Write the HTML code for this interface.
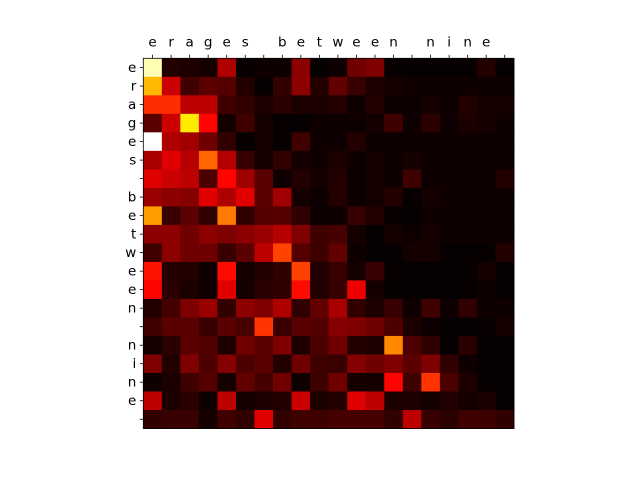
<!DOCTYPE html>
<html><head><meta charset="utf-8"><style>
body{margin:0;background:#fff;}
svg text{font-family:"DejaVu Sans","Liberation Sans",sans-serif;font-size:13.5px;fill:#000;}
</style></head><body>
<svg id="chart" width="640" height="480" viewBox="0 0 640 480" xmlns="http://www.w3.org/2000/svg">
<rect width="640" height="480" fill="#fff"/>
<g id="cells"></g><g id="axes"></g>
</svg>
<script>
const xLabels = ["e","r","a","g","e","s"," ","b","e","t","w","e","e","n"," ","n","i","n","e"," "];
const yLabels = ["e","r","a","g","e","s"," ","b","e","t","w","e","e","n"," ","n","i","n","e"," "];
const weights = [
[0.92,0.05,0.04,0.03,0.25,0.01,0.02,0.02,0.2,0.01,0.02,0.16,0.18,0.01,0.01,0.01,0.01,0.01,0.05,0.01],
[0.63,0.29,0.09,0.13,0.12,0.05,0.01,0.07,0.2,0.05,0.14,0.08,0.04,0.03,0.02,0.02,0.02,0.02,0.02,0.02],
[0.43,0.43,0.27,0.27,0.09,0.07,0.04,0.06,0.04,0.04,0.05,0.02,0.05,0.02,0.02,0.03,0.02,0.05,0.03,0.03],
[0.13,0.29,0.70,0.37,0.03,0.09,0.03,0.01,0.01,0.02,0.02,0.02,0.03,0.09,0.02,0.06,0.02,0.04,0.03,0.02],
[1.0,0.25,0.23,0.16,0.07,0.01,0.03,0.01,0.09,0.02,0.02,0.05,0.02,0.02,0.02,0.02,0.02,0.02,0.02,0.02],
[0.24,0.32,0.26,0.51,0.26,0.08,0.03,0.07,0.03,0.02,0.04,0.02,0.03,0.02,0.03,0.02,0.02,0.02,0.02,0.02],
[0.32,0.29,0.27,0.11,0.37,0.23,0.13,0.02,0.05,0.03,0.05,0.02,0.03,0.02,0.09,0.02,0.02,0.02,0.02,0.05],
[0.22,0.2,0.19,0.32,0.25,0.32,0.13,0.23,0.03,0.02,0.05,0.02,0.03,0.05,0.01,0.03,0.02,0.02,0.02,0.02],
[0.59,0.08,0.13,0.07,0.54,0.07,0.12,0.12,0.07,0.02,0.02,0.08,0.05,0.01,0.01,0.02,0.02,0.02,0.02,0.02],
[0.2,0.2,0.16,0.2,0.18,0.2,0.22,0.26,0.18,0.09,0.1,0.03,0.01,0.03,0.02,0.03,0.02,0.02,0.02,0.02],
[0.09,0.2,0.16,0.16,0.08,0.13,0.27,0.46,0.12,0.09,0.14,0.02,0.01,0.01,0.03,0.03,0.01,0.01,0.01,0.05],
[0.39,0.05,0.05,0.02,0.38,0.03,0.05,0.07,0.46,0.05,0.08,0.03,0.08,0.01,0.01,0.01,0.01,0.01,0.03,0.01],
[0.37,0.06,0.04,0.02,0.32,0.03,0.06,0.07,0.38,0.05,0.08,0.34,0.03,0.01,0.01,0.01,0.01,0.01,0.02,0.01],
[0.05,0.1,0.18,0.22,0.07,0.2,0.18,0.25,0.07,0.14,0.24,0.07,0.04,0.08,0.02,0.09,0.02,0.07,0.02,0.02],
[0.09,0.13,0.13,0.08,0.13,0.1,0.44,0.08,0.13,0.12,0.19,0.18,0.16,0.11,0.04,0.02,0.01,0.01,0.01,0.03],
[0.03,0.06,0.13,0.12,0.04,0.16,0.13,0.18,0.04,0.11,0.16,0.05,0.04,0.56,0.11,0.07,0.01,0.06,0.01,0.01],
[0.18,0.05,0.18,0.11,0.19,0.11,0.13,0.05,0.16,0.09,0.08,0.19,0.16,0.18,0.13,0.18,0.07,0.02,0.01,0.01],
[0.02,0.04,0.09,0.12,0.03,0.14,0.1,0.16,0.02,0.09,0.16,0.03,0.03,0.37,0.09,0.44,0.11,0.04,0.01,0.01],
[0.27,0.04,0.06,0.02,0.27,0.03,0.04,0.05,0.29,0.04,0.05,0.32,0.27,0.04,0.04,0.03,0.05,0.03,0.04,0.01],
[0.07,0.08,0.08,0.03,0.09,0.07,0.32,0.07,0.09,0.09,0.1,0.1,0.1,0.07,0.27,0.08,0.06,0.09,0.09,0.07]
];
const X0=143.3, Y0=58.3, W=370.7, H=370.2;
const cw=W/xLabels.length, ch=H/yLabels.length;
function xPos(i){return X0+i*cw;}
function yPos(j){return Y0+j*ch;}
function hot(v){
  const c=x=>Math.round(255*Math.max(0,Math.min(1,x)));
  return `rgb(${c(v/0.365)},${c((v-0.365)/0.365)},${c((v-0.73)/0.27)})`;
}
const NS="http://www.w3.org/2000/svg";
const cells=document.getElementById('cells'), axes=document.getElementById('axes');
weights.forEach((row,j)=>row.forEach((v,i)=>{
  const r=document.createElementNS(NS,'rect');
  r.setAttribute('x',xPos(i));r.setAttribute('y',yPos(j));
  r.setAttribute('width',cw+0.4);r.setAttribute('height',ch+0.4);
  r.setAttribute('fill',hot(v));
  
  
  cells.appendChild(r);
}));
xLabels.forEach((l,i)=>{
  const x=xPos(i)+cw/2;
  const t=document.createElementNS(NS,'line');
  t.setAttribute('x1',x);t.setAttribute('x2',x);t.setAttribute('y1',Y0);t.setAttribute('y2',Y0-3.5);
  t.setAttribute('stroke','#000');t.setAttribute('stroke-width','0.8');
  
  
  axes.appendChild(t);
  const tx=document.createElementNS(NS,'text');
  tx.setAttribute('x',x);tx.setAttribute('y',Y0-12);tx.setAttribute('text-anchor','middle');
  tx.textContent=l;
  
  
  axes.appendChild(tx);
});
yLabels.forEach((l,j)=>{
  const y=yPos(j)+ch/2;
  const t=document.createElementNS(NS,'line');
  t.setAttribute('x1',X0);t.setAttribute('x2',X0-3.5);t.setAttribute('y1',y);t.setAttribute('y2',y);
  t.setAttribute('stroke','#000');t.setAttribute('stroke-width','0.8');
  
  
  axes.appendChild(t);
  const tx=document.createElementNS(NS,'text');
  tx.setAttribute('x',X0-7);tx.setAttribute('y',y+4.5);tx.setAttribute('text-anchor','end');
  tx.textContent=l;
  
  
  axes.appendChild(tx);
});
const fr=document.createElementNS(NS,'rect');
fr.setAttribute('x',X0);fr.setAttribute('y',Y0);fr.setAttribute('width',W);fr.setAttribute('height',H);
fr.setAttribute('fill','none');fr.setAttribute('stroke','#000');fr.setAttribute('stroke-width','0.8');


axes.appendChild(fr);
</script>
</body></html>
